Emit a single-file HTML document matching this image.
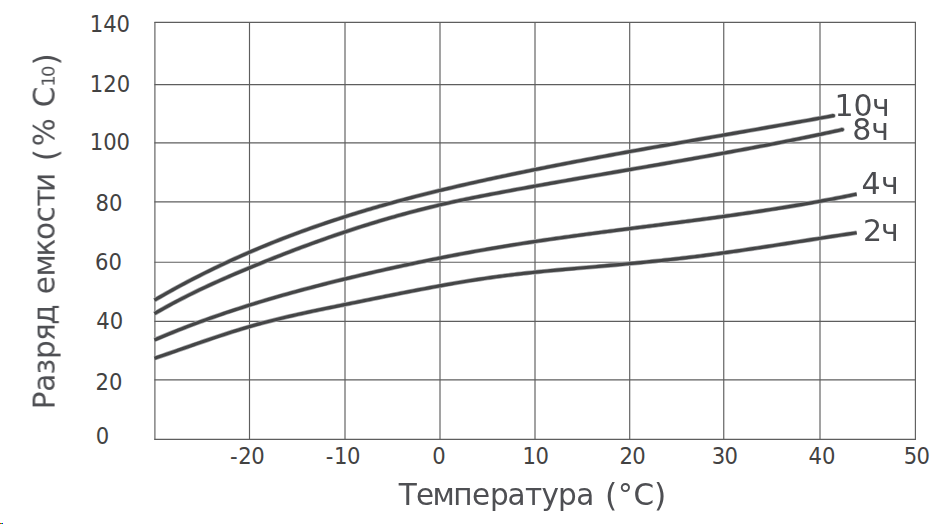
<!DOCTYPE html>
<html><head><meta charset="utf-8"><style>
html,body{margin:0;padding:0;background:#fff;width:942px;height:524px;overflow:hidden}
svg{display:block}
</style></head><body>
<svg width="942" height="524" viewBox="0 0 942 524">
<rect width="942" height="524" fill="#fff"/>
<rect x="0" y="523" width="1" height="1" fill="#f00"/><rect x="1" y="523" width="1" height="1" fill="#0f0"/><rect x="2" y="523" width="1" height="1" fill="#00f"/>
<g stroke="#5e5e5e" stroke-width="1.15" fill="none">
<line x1="154.4" y1="22.4" x2="915.9" y2="22.4"/>
<line x1="154.4" y1="84.55" x2="915.9" y2="84.55"/>
<line x1="154.4" y1="142.8" x2="915.9" y2="142.8"/>
<line x1="154.4" y1="201.8" x2="915.9" y2="201.8"/>
<line x1="154.4" y1="262.2" x2="915.9" y2="262.2"/>
<line x1="154.4" y1="321.4" x2="915.9" y2="321.4"/>
<line x1="154.4" y1="379.85" x2="915.9" y2="379.85"/>
<line x1="154.4" y1="439.4" x2="915.9" y2="439.4"/>
<line x1="154.9" y1="21.9" x2="154.9" y2="439.9"/>
<line x1="249.5" y1="21.9" x2="249.5" y2="439.9"/>
<line x1="345.0" y1="21.9" x2="345.0" y2="439.9"/>
<line x1="440.0" y1="21.9" x2="440.0" y2="439.9"/>
<line x1="535.0" y1="21.9" x2="535.0" y2="439.9"/>
<line x1="629.7" y1="21.9" x2="629.7" y2="439.9"/>
<line x1="723.75" y1="21.9" x2="723.75" y2="439.9"/>
<line x1="820.0" y1="21.9" x2="820.0" y2="439.9"/>
<line x1="915.4" y1="21.9" x2="915.4" y2="439.9"/>
</g>
<g stroke="#a6a7a9" stroke-width="4.6" fill="none" stroke-linejoin="round" stroke-linecap="butt">
<path d="M154.40 300.21 L157.40 298.47 L160.40 296.74 L163.40 295.03 L166.40 293.33 L169.40 291.66 L172.40 289.99 L175.40 288.34 L178.40 286.71 L181.40 285.09 L184.40 283.49 L187.40 281.90 L190.40 280.33 L193.40 278.77 L196.40 277.23 L199.40 275.70 L202.40 274.19 L205.40 272.69 L208.40 271.20 L211.40 269.73 L214.40 268.27 L217.40 266.83 L220.40 265.40 L223.40 263.98 L226.40 262.58 L229.40 261.19 L232.40 259.81 L235.40 258.45 L238.40 257.10 L241.40 255.76 L244.40 254.44 L247.40 253.13 L250.40 251.83 L253.40 250.54 L256.40 249.27 L259.40 248.00 L262.40 246.75 L265.40 245.52 L268.40 244.29 L271.40 243.08 L274.40 241.88 L277.40 240.69 L280.40 239.51 L283.40 238.34 L286.40 237.18 L289.40 236.04 L292.40 234.91 L295.40 233.78 L298.40 232.67 L301.40 231.57 L304.40 230.48 L307.40 229.40 L310.40 228.33 L313.40 227.27 L316.40 226.22 L319.40 225.18 L322.40 224.15 L325.40 223.13 L328.40 222.12 L331.40 221.12 L334.40 220.13 L337.40 219.15 L340.40 218.18 L343.40 217.22 L346.40 216.26 L349.40 215.32 L352.40 214.38 L355.40 213.45 L358.40 212.53 L361.40 211.62 L364.40 210.72 L367.40 209.83 L370.40 208.94 L373.40 208.06 L376.40 207.20 L379.40 206.33 L382.40 205.48 L385.40 204.63 L388.40 203.79 L391.40 202.96 L394.40 202.14 L397.40 201.32 L400.40 200.51 L403.40 199.71 L406.40 198.91 L409.40 198.12 L412.40 197.34 L415.40 196.56 L418.40 195.79 L421.40 195.02 L424.40 194.27 L427.40 193.51 L430.40 192.77 L433.40 192.03 L436.40 191.29 L439.40 190.56 L442.40 189.84 L445.40 189.12 L448.40 188.41 L451.40 187.70 L454.40 187.00 L457.40 186.30 L460.40 185.60 L463.40 184.92 L466.40 184.23 L469.40 183.55 L472.40 182.88 L475.40 182.20 L478.40 181.54 L481.40 180.87 L484.40 180.21 L487.40 179.56 L490.40 178.91 L493.40 178.26 L496.40 177.61 L499.40 176.97 L502.40 176.33 L505.40 175.70 L508.40 175.07 L511.40 174.44 L514.40 173.81 L517.40 173.19 L520.40 172.57 L523.40 171.95 L526.40 171.34 L529.40 170.73 L532.40 170.12 L535.40 169.51 L538.40 168.91 L541.40 168.31 L544.40 167.71 L547.40 167.11 L550.40 166.52 L553.40 165.93 L556.40 165.34 L559.40 164.75 L562.40 164.17 L565.40 163.59 L568.40 163.01 L571.40 162.43 L574.40 161.86 L577.40 161.29 L580.40 160.72 L583.40 160.15 L586.40 159.58 L589.40 159.02 L592.40 158.46 L595.40 157.89 L598.40 157.34 L601.40 156.78 L604.40 156.22 L607.40 155.67 L610.40 155.12 L613.40 154.57 L616.40 154.02 L619.40 153.47 L622.40 152.93 L625.40 152.38 L628.40 151.84 L631.40 151.30 L634.40 150.76 L637.40 150.22 L640.40 149.68 L643.40 149.14 L646.40 148.61 L649.40 148.07 L652.40 147.54 L655.40 147.01 L658.40 146.48 L661.40 145.95 L664.40 145.42 L667.40 144.89 L670.40 144.36 L673.40 143.83 L676.40 143.31 L679.40 142.78 L682.40 142.26 L685.40 141.73 L688.40 141.21 L691.40 140.69 L694.40 140.16 L697.40 139.64 L700.40 139.12 L703.40 138.60 L706.40 138.08 L709.40 137.55 L712.40 137.03 L715.40 136.51 L718.40 135.99 L721.40 135.47 L724.40 134.95 L727.40 134.43 L730.40 133.91 L733.40 133.39 L736.40 132.87 L739.40 132.34 L742.40 131.82 L745.40 131.30 L748.40 130.78 L751.40 130.26 L754.40 129.73 L757.40 129.21 L760.40 128.69 L763.40 128.16 L766.40 127.64 L769.40 127.11 L772.40 126.59 L775.40 126.06 L778.40 125.53 L781.40 125.00 L784.40 124.48 L787.40 123.95 L790.40 123.41 L793.40 122.88 L796.40 122.35 L799.40 121.82 L802.40 121.28 L805.40 120.75 L808.40 120.21 L811.40 119.67 L814.40 119.13 L817.40 118.59 L820.40 118.05 L823.40 117.50 L826.40 116.96 L829.40 116.41 L832.40 115.86 L833.40 115.68"/>
<path d="M154.40 313.71 L157.40 311.96 L160.40 310.24 L163.40 308.54 L166.40 306.87 L169.40 305.23 L172.40 303.60 L175.40 302.00 L178.40 300.42 L181.40 298.86 L184.40 297.33 L187.40 295.81 L190.40 294.31 L193.40 292.83 L196.40 291.37 L199.40 289.92 L202.40 288.50 L205.40 287.08 L208.40 285.69 L211.40 284.31 L214.40 282.94 L217.40 281.59 L220.40 280.25 L223.40 278.92 L226.40 277.61 L229.40 276.31 L232.40 275.01 L235.40 273.73 L238.40 272.46 L241.40 271.19 L244.40 269.94 L247.40 268.69 L250.40 267.44 L253.40 266.21 L256.40 264.98 L259.40 263.76 L262.40 262.54 L265.40 261.33 L268.40 260.13 L271.40 258.93 L274.40 257.75 L277.40 256.56 L280.40 255.39 L283.40 254.22 L286.40 253.06 L289.40 251.91 L292.40 250.76 L295.40 249.62 L298.40 248.49 L301.40 247.37 L304.40 246.25 L307.40 245.14 L310.40 244.04 L313.40 242.95 L316.40 241.87 L319.40 240.79 L322.40 239.72 L325.40 238.66 L328.40 237.61 L331.40 236.57 L334.40 235.53 L337.40 234.50 L340.40 233.48 L343.40 232.47 L346.40 231.47 L349.40 230.48 L352.40 229.50 L355.40 228.52 L358.40 227.56 L361.40 226.60 L364.40 225.65 L367.40 224.71 L370.40 223.78 L373.40 222.86 L376.40 221.95 L379.40 221.05 L382.40 220.15 L385.40 219.27 L388.40 218.40 L391.40 217.53 L394.40 216.67 L397.40 215.83 L400.40 214.99 L403.40 214.16 L406.40 213.35 L409.40 212.54 L412.40 211.74 L415.40 210.95 L418.40 210.17 L421.40 209.41 L424.40 208.65 L427.40 207.90 L430.40 207.16 L433.40 206.43 L436.40 205.71 L439.40 205.00 L442.40 204.31 L445.40 203.62 L448.40 202.94 L451.40 202.27 L454.40 201.62 L457.40 200.97 L460.40 200.33 L463.40 199.70 L466.40 199.08 L469.40 198.46 L472.40 197.86 L475.40 197.26 L478.40 196.66 L481.40 196.08 L484.40 195.49 L487.40 194.91 L490.40 194.34 L493.40 193.77 L496.40 193.20 L499.40 192.64 L502.40 192.08 L505.40 191.52 L508.40 190.96 L511.40 190.41 L514.40 189.85 L517.40 189.30 L520.40 188.75 L523.40 188.21 L526.40 187.66 L529.40 187.12 L532.40 186.58 L535.40 186.04 L538.40 185.50 L541.40 184.96 L544.40 184.42 L547.40 183.89 L550.40 183.36 L553.40 182.83 L556.40 182.30 L559.40 181.77 L562.40 181.24 L565.40 180.71 L568.40 180.19 L571.40 179.66 L574.40 179.14 L577.40 178.62 L580.40 178.09 L583.40 177.57 L586.40 177.05 L589.40 176.53 L592.40 176.01 L595.40 175.50 L598.40 174.98 L601.40 174.46 L604.40 173.94 L607.40 173.43 L610.40 172.91 L613.40 172.39 L616.40 171.88 L619.40 171.36 L622.40 170.85 L625.40 170.33 L628.40 169.82 L631.40 169.30 L634.40 168.78 L637.40 168.27 L640.40 167.75 L643.40 167.23 L646.40 166.72 L649.40 166.20 L652.40 165.68 L655.40 165.16 L658.40 164.65 L661.40 164.13 L664.40 163.61 L667.40 163.09 L670.40 162.56 L673.40 162.04 L676.40 161.52 L679.40 160.99 L682.40 160.47 L685.40 159.94 L688.40 159.42 L691.40 158.89 L694.40 158.36 L697.40 157.83 L700.40 157.29 L703.40 156.76 L706.40 156.23 L709.40 155.69 L712.40 155.15 L715.40 154.61 L718.40 154.07 L721.40 153.53 L724.40 152.98 L727.40 152.44 L730.40 151.89 L733.40 151.34 L736.40 150.79 L739.40 150.23 L742.40 149.68 L745.40 149.12 L748.40 148.56 L751.40 147.99 L754.40 147.43 L757.40 146.86 L760.40 146.29 L763.40 145.72 L766.40 145.15 L769.40 144.57 L772.40 143.99 L775.40 143.41 L778.40 142.82 L781.40 142.23 L784.40 141.64 L787.40 141.05 L790.40 140.45 L793.40 139.85 L796.40 139.25 L799.40 138.64 L802.40 138.04 L805.40 137.42 L808.40 136.81 L811.40 136.19 L814.40 135.57 L817.40 134.94 L820.40 134.31 L823.40 133.68 L826.40 133.04 L829.40 132.41 L832.40 131.76 L835.40 131.12 L838.40 130.46 L841.40 129.81 L842.40 129.59"/>
<path d="M154.40 339.98 L157.40 338.70 L160.40 337.44 L163.40 336.19 L166.40 334.95 L169.40 333.72 L172.40 332.50 L175.40 331.30 L178.40 330.11 L181.40 328.93 L184.40 327.77 L187.40 326.61 L190.40 325.47 L193.40 324.34 L196.40 323.22 L199.40 322.11 L202.40 321.01 L205.40 319.92 L208.40 318.85 L211.40 317.78 L214.40 316.73 L217.40 315.68 L220.40 314.65 L223.40 313.63 L226.40 312.61 L229.40 311.61 L232.40 310.61 L235.40 309.63 L238.40 308.65 L241.40 307.69 L244.40 306.73 L247.40 305.78 L250.40 304.84 L253.40 303.91 L256.40 302.99 L259.40 302.08 L262.40 301.17 L265.40 300.27 L268.40 299.38 L271.40 298.50 L274.40 297.63 L277.40 296.76 L280.40 295.90 L283.40 295.05 L286.40 294.21 L289.40 293.37 L292.40 292.54 L295.40 291.72 L298.40 290.90 L301.40 290.09 L304.40 289.29 L307.40 288.49 L310.40 287.70 L313.40 286.91 L316.40 286.13 L319.40 285.36 L322.40 284.59 L325.40 283.83 L328.40 283.07 L331.40 282.32 L334.40 281.57 L337.40 280.82 L340.40 280.09 L343.40 279.35 L346.40 278.62 L349.40 277.90 L352.40 277.18 L355.40 276.46 L358.40 275.75 L361.40 275.04 L364.40 274.33 L367.40 273.63 L370.40 272.93 L373.40 272.24 L376.40 271.55 L379.40 270.87 L382.40 270.19 L385.40 269.52 L388.40 268.84 L391.40 268.18 L394.40 267.52 L397.40 266.86 L400.40 266.20 L403.40 265.55 L406.40 264.91 L409.40 264.27 L412.40 263.63 L415.40 263.00 L418.40 262.37 L421.40 261.75 L424.40 261.13 L427.40 260.51 L430.40 259.90 L433.40 259.30 L436.40 258.70 L439.40 258.10 L442.40 257.51 L445.40 256.92 L448.40 256.34 L451.40 255.76 L454.40 255.19 L457.40 254.62 L460.40 254.05 L463.40 253.50 L466.40 252.94 L469.40 252.39 L472.40 251.84 L475.40 251.30 L478.40 250.77 L481.40 250.23 L484.40 249.71 L487.40 249.19 L490.40 248.67 L493.40 248.16 L496.40 247.65 L499.40 247.15 L502.40 246.65 L505.40 246.15 L508.40 245.67 L511.40 245.18 L514.40 244.70 L517.40 244.23 L520.40 243.75 L523.40 243.29 L526.40 242.83 L529.40 242.37 L532.40 241.91 L535.40 241.46 L538.40 241.01 L541.40 240.57 L544.40 240.13 L547.40 239.69 L550.40 239.26 L553.40 238.83 L556.40 238.40 L559.40 237.97 L562.40 237.55 L565.40 237.13 L568.40 236.72 L571.40 236.30 L574.40 235.89 L577.40 235.48 L580.40 235.08 L583.40 234.67 L586.40 234.27 L589.40 233.87 L592.40 233.47 L595.40 233.07 L598.40 232.68 L601.40 232.28 L604.40 231.89 L607.40 231.50 L610.40 231.11 L613.40 230.72 L616.40 230.34 L619.40 229.95 L622.40 229.57 L625.40 229.18 L628.40 228.80 L631.40 228.42 L634.40 228.03 L637.40 227.65 L640.40 227.27 L643.40 226.89 L646.40 226.51 L649.40 226.12 L652.40 225.74 L655.40 225.36 L658.40 224.98 L661.40 224.60 L664.40 224.21 L667.40 223.83 L670.40 223.45 L673.40 223.06 L676.40 222.68 L679.40 222.29 L682.40 221.90 L685.40 221.51 L688.40 221.12 L691.40 220.73 L694.40 220.34 L697.40 219.94 L700.40 219.55 L703.40 219.15 L706.40 218.75 L709.40 218.35 L712.40 217.94 L715.40 217.54 L718.40 217.13 L721.40 216.72 L724.40 216.30 L727.40 215.89 L730.40 215.47 L733.40 215.05 L736.40 214.62 L739.40 214.20 L742.40 213.77 L745.40 213.33 L748.40 212.90 L751.40 212.46 L754.40 212.01 L757.40 211.56 L760.40 211.11 L763.40 210.66 L766.40 210.20 L769.40 209.74 L772.40 209.27 L775.40 208.80 L778.40 208.33 L781.40 207.85 L784.40 207.37 L787.40 206.88 L790.40 206.39 L793.40 205.89 L796.40 205.39 L799.40 204.88 L802.40 204.37 L805.40 203.85 L808.40 203.33 L811.40 202.80 L814.40 202.27 L817.40 201.73 L820.40 201.18 L823.40 200.63 L826.40 200.08 L829.40 199.52 L832.40 198.95 L835.40 198.37 L838.40 197.79 L841.40 197.21 L844.40 196.62 L847.40 196.02 L850.40 195.41 L853.40 194.80 L856.40 194.18 L856.70 194.12"/>
<path d="M154.40 358.38 L157.40 357.36 L160.40 356.34 L163.40 355.31 L166.40 354.27 L169.40 353.24 L172.40 352.20 L175.40 351.15 L178.40 350.11 L181.40 349.06 L184.40 348.01 L187.40 346.97 L190.40 345.92 L193.40 344.88 L196.40 343.84 L199.40 342.80 L202.40 341.76 L205.40 340.73 L208.40 339.71 L211.40 338.69 L214.40 337.68 L217.40 336.68 L220.40 335.68 L223.40 334.70 L226.40 333.72 L229.40 332.76 L232.40 331.80 L235.40 330.86 L238.40 329.93 L241.40 329.02 L244.40 328.11 L247.40 327.23 L250.40 326.36 L253.40 325.50 L256.40 324.66 L259.40 323.84 L262.40 323.03 L265.40 322.24 L268.40 321.46 L271.40 320.69 L274.40 319.94 L277.40 319.19 L280.40 318.46 L283.40 317.74 L286.40 317.03 L289.40 316.33 L292.40 315.64 L295.40 314.96 L298.40 314.29 L301.40 313.63 L304.40 312.97 L307.40 312.32 L310.40 311.68 L313.40 311.04 L316.40 310.41 L319.40 309.78 L322.40 309.16 L325.40 308.54 L328.40 307.92 L331.40 307.31 L334.40 306.70 L337.40 306.09 L340.40 305.48 L343.40 304.88 L346.40 304.27 L349.40 303.66 L352.40 303.05 L355.40 302.45 L358.40 301.84 L361.40 301.23 L364.40 300.62 L367.40 300.01 L370.40 299.40 L373.40 298.79 L376.40 298.18 L379.40 297.57 L382.40 296.97 L385.40 296.36 L388.40 295.76 L391.40 295.16 L394.40 294.56 L397.40 293.96 L400.40 293.36 L403.40 292.77 L406.40 292.18 L409.40 291.59 L412.40 291.01 L415.40 290.43 L418.40 289.85 L421.40 289.28 L424.40 288.71 L427.40 288.14 L430.40 287.58 L433.40 287.03 L436.40 286.47 L439.40 285.93 L442.40 285.39 L445.40 284.85 L448.40 284.32 L451.40 283.80 L454.40 283.28 L457.40 282.77 L460.40 282.26 L463.40 281.76 L466.40 281.27 L469.40 280.78 L472.40 280.31 L475.40 279.84 L478.40 279.37 L481.40 278.92 L484.40 278.47 L487.40 278.04 L490.40 277.61 L493.40 277.18 L496.40 276.77 L499.40 276.37 L502.40 275.98 L505.40 275.59 L508.40 275.22 L511.40 274.85 L514.40 274.49 L517.40 274.14 L520.40 273.80 L523.40 273.46 L526.40 273.13 L529.40 272.81 L532.40 272.49 L535.40 272.18 L538.40 271.88 L541.40 271.58 L544.40 271.28 L547.40 270.99 L550.40 270.71 L553.40 270.43 L556.40 270.15 L559.40 269.87 L562.40 269.60 L565.40 269.33 L568.40 269.07 L571.40 268.80 L574.40 268.54 L577.40 268.28 L580.40 268.02 L583.40 267.76 L586.40 267.50 L589.40 267.24 L592.40 266.98 L595.40 266.72 L598.40 266.45 L601.40 266.19 L604.40 265.93 L607.40 265.66 L610.40 265.39 L613.40 265.13 L616.40 264.85 L619.40 264.58 L622.40 264.31 L625.40 264.03 L628.40 263.75 L631.40 263.46 L634.40 263.18 L637.40 262.89 L640.40 262.60 L643.40 262.31 L646.40 262.01 L649.40 261.71 L652.40 261.40 L655.40 261.10 L658.40 260.79 L661.40 260.47 L664.40 260.15 L667.40 259.83 L670.40 259.50 L673.40 259.17 L676.40 258.83 L679.40 258.49 L682.40 258.15 L685.40 257.80 L688.40 257.44 L691.40 257.09 L694.40 256.72 L697.40 256.35 L700.40 255.98 L703.40 255.60 L706.40 255.21 L709.40 254.82 L712.40 254.42 L715.40 254.02 L718.40 253.62 L721.40 253.21 L724.40 252.79 L727.40 252.37 L730.40 251.95 L733.40 251.53 L736.40 251.10 L739.40 250.66 L742.40 250.23 L745.40 249.79 L748.40 249.34 L751.40 248.90 L754.40 248.45 L757.40 248.00 L760.40 247.55 L763.40 247.09 L766.40 246.63 L769.40 246.17 L772.40 245.71 L775.40 245.25 L778.40 244.79 L781.40 244.32 L784.40 243.86 L787.40 243.39 L790.40 242.92 L793.40 242.45 L796.40 241.98 L799.40 241.52 L802.40 241.05 L805.40 240.58 L808.40 240.11 L811.40 239.64 L814.40 239.17 L817.40 238.71 L820.40 238.24 L823.40 237.78 L826.40 237.31 L829.40 236.85 L832.40 236.39 L835.40 235.93 L838.40 235.47 L841.40 235.02 L844.40 234.56 L847.40 234.11 L850.40 233.66 L853.40 233.22 L856.40 232.78 L856.70 232.73"/>
<circle cx="833.40" cy="115.68" r="2.3" fill="#a6a7a9" stroke="none"/>
<circle cx="842.40" cy="129.59" r="2.3" fill="#a6a7a9" stroke="none"/>
</g>
<g stroke="#444546" stroke-width="3.2" fill="none" stroke-linejoin="round" stroke-linecap="butt">
<path d="M154.40 300.21 L157.40 298.47 L160.40 296.74 L163.40 295.03 L166.40 293.33 L169.40 291.66 L172.40 289.99 L175.40 288.34 L178.40 286.71 L181.40 285.09 L184.40 283.49 L187.40 281.90 L190.40 280.33 L193.40 278.77 L196.40 277.23 L199.40 275.70 L202.40 274.19 L205.40 272.69 L208.40 271.20 L211.40 269.73 L214.40 268.27 L217.40 266.83 L220.40 265.40 L223.40 263.98 L226.40 262.58 L229.40 261.19 L232.40 259.81 L235.40 258.45 L238.40 257.10 L241.40 255.76 L244.40 254.44 L247.40 253.13 L250.40 251.83 L253.40 250.54 L256.40 249.27 L259.40 248.00 L262.40 246.75 L265.40 245.52 L268.40 244.29 L271.40 243.08 L274.40 241.88 L277.40 240.69 L280.40 239.51 L283.40 238.34 L286.40 237.18 L289.40 236.04 L292.40 234.91 L295.40 233.78 L298.40 232.67 L301.40 231.57 L304.40 230.48 L307.40 229.40 L310.40 228.33 L313.40 227.27 L316.40 226.22 L319.40 225.18 L322.40 224.15 L325.40 223.13 L328.40 222.12 L331.40 221.12 L334.40 220.13 L337.40 219.15 L340.40 218.18 L343.40 217.22 L346.40 216.26 L349.40 215.32 L352.40 214.38 L355.40 213.45 L358.40 212.53 L361.40 211.62 L364.40 210.72 L367.40 209.83 L370.40 208.94 L373.40 208.06 L376.40 207.20 L379.40 206.33 L382.40 205.48 L385.40 204.63 L388.40 203.79 L391.40 202.96 L394.40 202.14 L397.40 201.32 L400.40 200.51 L403.40 199.71 L406.40 198.91 L409.40 198.12 L412.40 197.34 L415.40 196.56 L418.40 195.79 L421.40 195.02 L424.40 194.27 L427.40 193.51 L430.40 192.77 L433.40 192.03 L436.40 191.29 L439.40 190.56 L442.40 189.84 L445.40 189.12 L448.40 188.41 L451.40 187.70 L454.40 187.00 L457.40 186.30 L460.40 185.60 L463.40 184.92 L466.40 184.23 L469.40 183.55 L472.40 182.88 L475.40 182.20 L478.40 181.54 L481.40 180.87 L484.40 180.21 L487.40 179.56 L490.40 178.91 L493.40 178.26 L496.40 177.61 L499.40 176.97 L502.40 176.33 L505.40 175.70 L508.40 175.07 L511.40 174.44 L514.40 173.81 L517.40 173.19 L520.40 172.57 L523.40 171.95 L526.40 171.34 L529.40 170.73 L532.40 170.12 L535.40 169.51 L538.40 168.91 L541.40 168.31 L544.40 167.71 L547.40 167.11 L550.40 166.52 L553.40 165.93 L556.40 165.34 L559.40 164.75 L562.40 164.17 L565.40 163.59 L568.40 163.01 L571.40 162.43 L574.40 161.86 L577.40 161.29 L580.40 160.72 L583.40 160.15 L586.40 159.58 L589.40 159.02 L592.40 158.46 L595.40 157.89 L598.40 157.34 L601.40 156.78 L604.40 156.22 L607.40 155.67 L610.40 155.12 L613.40 154.57 L616.40 154.02 L619.40 153.47 L622.40 152.93 L625.40 152.38 L628.40 151.84 L631.40 151.30 L634.40 150.76 L637.40 150.22 L640.40 149.68 L643.40 149.14 L646.40 148.61 L649.40 148.07 L652.40 147.54 L655.40 147.01 L658.40 146.48 L661.40 145.95 L664.40 145.42 L667.40 144.89 L670.40 144.36 L673.40 143.83 L676.40 143.31 L679.40 142.78 L682.40 142.26 L685.40 141.73 L688.40 141.21 L691.40 140.69 L694.40 140.16 L697.40 139.64 L700.40 139.12 L703.40 138.60 L706.40 138.08 L709.40 137.55 L712.40 137.03 L715.40 136.51 L718.40 135.99 L721.40 135.47 L724.40 134.95 L727.40 134.43 L730.40 133.91 L733.40 133.39 L736.40 132.87 L739.40 132.34 L742.40 131.82 L745.40 131.30 L748.40 130.78 L751.40 130.26 L754.40 129.73 L757.40 129.21 L760.40 128.69 L763.40 128.16 L766.40 127.64 L769.40 127.11 L772.40 126.59 L775.40 126.06 L778.40 125.53 L781.40 125.00 L784.40 124.48 L787.40 123.95 L790.40 123.41 L793.40 122.88 L796.40 122.35 L799.40 121.82 L802.40 121.28 L805.40 120.75 L808.40 120.21 L811.40 119.67 L814.40 119.13 L817.40 118.59 L820.40 118.05 L823.40 117.50 L826.40 116.96 L829.40 116.41 L832.40 115.86 L833.40 115.68"/>
<path d="M154.40 313.71 L157.40 311.96 L160.40 310.24 L163.40 308.54 L166.40 306.87 L169.40 305.23 L172.40 303.60 L175.40 302.00 L178.40 300.42 L181.40 298.86 L184.40 297.33 L187.40 295.81 L190.40 294.31 L193.40 292.83 L196.40 291.37 L199.40 289.92 L202.40 288.50 L205.40 287.08 L208.40 285.69 L211.40 284.31 L214.40 282.94 L217.40 281.59 L220.40 280.25 L223.40 278.92 L226.40 277.61 L229.40 276.31 L232.40 275.01 L235.40 273.73 L238.40 272.46 L241.40 271.19 L244.40 269.94 L247.40 268.69 L250.40 267.44 L253.40 266.21 L256.40 264.98 L259.40 263.76 L262.40 262.54 L265.40 261.33 L268.40 260.13 L271.40 258.93 L274.40 257.75 L277.40 256.56 L280.40 255.39 L283.40 254.22 L286.40 253.06 L289.40 251.91 L292.40 250.76 L295.40 249.62 L298.40 248.49 L301.40 247.37 L304.40 246.25 L307.40 245.14 L310.40 244.04 L313.40 242.95 L316.40 241.87 L319.40 240.79 L322.40 239.72 L325.40 238.66 L328.40 237.61 L331.40 236.57 L334.40 235.53 L337.40 234.50 L340.40 233.48 L343.40 232.47 L346.40 231.47 L349.40 230.48 L352.40 229.50 L355.40 228.52 L358.40 227.56 L361.40 226.60 L364.40 225.65 L367.40 224.71 L370.40 223.78 L373.40 222.86 L376.40 221.95 L379.40 221.05 L382.40 220.15 L385.40 219.27 L388.40 218.40 L391.40 217.53 L394.40 216.67 L397.40 215.83 L400.40 214.99 L403.40 214.16 L406.40 213.35 L409.40 212.54 L412.40 211.74 L415.40 210.95 L418.40 210.17 L421.40 209.41 L424.40 208.65 L427.40 207.90 L430.40 207.16 L433.40 206.43 L436.40 205.71 L439.40 205.00 L442.40 204.31 L445.40 203.62 L448.40 202.94 L451.40 202.27 L454.40 201.62 L457.40 200.97 L460.40 200.33 L463.40 199.70 L466.40 199.08 L469.40 198.46 L472.40 197.86 L475.40 197.26 L478.40 196.66 L481.40 196.08 L484.40 195.49 L487.40 194.91 L490.40 194.34 L493.40 193.77 L496.40 193.20 L499.40 192.64 L502.40 192.08 L505.40 191.52 L508.40 190.96 L511.40 190.41 L514.40 189.85 L517.40 189.30 L520.40 188.75 L523.40 188.21 L526.40 187.66 L529.40 187.12 L532.40 186.58 L535.40 186.04 L538.40 185.50 L541.40 184.96 L544.40 184.42 L547.40 183.89 L550.40 183.36 L553.40 182.83 L556.40 182.30 L559.40 181.77 L562.40 181.24 L565.40 180.71 L568.40 180.19 L571.40 179.66 L574.40 179.14 L577.40 178.62 L580.40 178.09 L583.40 177.57 L586.40 177.05 L589.40 176.53 L592.40 176.01 L595.40 175.50 L598.40 174.98 L601.40 174.46 L604.40 173.94 L607.40 173.43 L610.40 172.91 L613.40 172.39 L616.40 171.88 L619.40 171.36 L622.40 170.85 L625.40 170.33 L628.40 169.82 L631.40 169.30 L634.40 168.78 L637.40 168.27 L640.40 167.75 L643.40 167.23 L646.40 166.72 L649.40 166.20 L652.40 165.68 L655.40 165.16 L658.40 164.65 L661.40 164.13 L664.40 163.61 L667.40 163.09 L670.40 162.56 L673.40 162.04 L676.40 161.52 L679.40 160.99 L682.40 160.47 L685.40 159.94 L688.40 159.42 L691.40 158.89 L694.40 158.36 L697.40 157.83 L700.40 157.29 L703.40 156.76 L706.40 156.23 L709.40 155.69 L712.40 155.15 L715.40 154.61 L718.40 154.07 L721.40 153.53 L724.40 152.98 L727.40 152.44 L730.40 151.89 L733.40 151.34 L736.40 150.79 L739.40 150.23 L742.40 149.68 L745.40 149.12 L748.40 148.56 L751.40 147.99 L754.40 147.43 L757.40 146.86 L760.40 146.29 L763.40 145.72 L766.40 145.15 L769.40 144.57 L772.40 143.99 L775.40 143.41 L778.40 142.82 L781.40 142.23 L784.40 141.64 L787.40 141.05 L790.40 140.45 L793.40 139.85 L796.40 139.25 L799.40 138.64 L802.40 138.04 L805.40 137.42 L808.40 136.81 L811.40 136.19 L814.40 135.57 L817.40 134.94 L820.40 134.31 L823.40 133.68 L826.40 133.04 L829.40 132.41 L832.40 131.76 L835.40 131.12 L838.40 130.46 L841.40 129.81 L842.40 129.59"/>
<path d="M154.40 339.98 L157.40 338.70 L160.40 337.44 L163.40 336.19 L166.40 334.95 L169.40 333.72 L172.40 332.50 L175.40 331.30 L178.40 330.11 L181.40 328.93 L184.40 327.77 L187.40 326.61 L190.40 325.47 L193.40 324.34 L196.40 323.22 L199.40 322.11 L202.40 321.01 L205.40 319.92 L208.40 318.85 L211.40 317.78 L214.40 316.73 L217.40 315.68 L220.40 314.65 L223.40 313.63 L226.40 312.61 L229.40 311.61 L232.40 310.61 L235.40 309.63 L238.40 308.65 L241.40 307.69 L244.40 306.73 L247.40 305.78 L250.40 304.84 L253.40 303.91 L256.40 302.99 L259.40 302.08 L262.40 301.17 L265.40 300.27 L268.40 299.38 L271.40 298.50 L274.40 297.63 L277.40 296.76 L280.40 295.90 L283.40 295.05 L286.40 294.21 L289.40 293.37 L292.40 292.54 L295.40 291.72 L298.40 290.90 L301.40 290.09 L304.40 289.29 L307.40 288.49 L310.40 287.70 L313.40 286.91 L316.40 286.13 L319.40 285.36 L322.40 284.59 L325.40 283.83 L328.40 283.07 L331.40 282.32 L334.40 281.57 L337.40 280.82 L340.40 280.09 L343.40 279.35 L346.40 278.62 L349.40 277.90 L352.40 277.18 L355.40 276.46 L358.40 275.75 L361.40 275.04 L364.40 274.33 L367.40 273.63 L370.40 272.93 L373.40 272.24 L376.40 271.55 L379.40 270.87 L382.40 270.19 L385.40 269.52 L388.40 268.84 L391.40 268.18 L394.40 267.52 L397.40 266.86 L400.40 266.20 L403.40 265.55 L406.40 264.91 L409.40 264.27 L412.40 263.63 L415.40 263.00 L418.40 262.37 L421.40 261.75 L424.40 261.13 L427.40 260.51 L430.40 259.90 L433.40 259.30 L436.40 258.70 L439.40 258.10 L442.40 257.51 L445.40 256.92 L448.40 256.34 L451.40 255.76 L454.40 255.19 L457.40 254.62 L460.40 254.05 L463.40 253.50 L466.40 252.94 L469.40 252.39 L472.40 251.84 L475.40 251.30 L478.40 250.77 L481.40 250.23 L484.40 249.71 L487.40 249.19 L490.40 248.67 L493.40 248.16 L496.40 247.65 L499.40 247.15 L502.40 246.65 L505.40 246.15 L508.40 245.67 L511.40 245.18 L514.40 244.70 L517.40 244.23 L520.40 243.75 L523.40 243.29 L526.40 242.83 L529.40 242.37 L532.40 241.91 L535.40 241.46 L538.40 241.01 L541.40 240.57 L544.40 240.13 L547.40 239.69 L550.40 239.26 L553.40 238.83 L556.40 238.40 L559.40 237.97 L562.40 237.55 L565.40 237.13 L568.40 236.72 L571.40 236.30 L574.40 235.89 L577.40 235.48 L580.40 235.08 L583.40 234.67 L586.40 234.27 L589.40 233.87 L592.40 233.47 L595.40 233.07 L598.40 232.68 L601.40 232.28 L604.40 231.89 L607.40 231.50 L610.40 231.11 L613.40 230.72 L616.40 230.34 L619.40 229.95 L622.40 229.57 L625.40 229.18 L628.40 228.80 L631.40 228.42 L634.40 228.03 L637.40 227.65 L640.40 227.27 L643.40 226.89 L646.40 226.51 L649.40 226.12 L652.40 225.74 L655.40 225.36 L658.40 224.98 L661.40 224.60 L664.40 224.21 L667.40 223.83 L670.40 223.45 L673.40 223.06 L676.40 222.68 L679.40 222.29 L682.40 221.90 L685.40 221.51 L688.40 221.12 L691.40 220.73 L694.40 220.34 L697.40 219.94 L700.40 219.55 L703.40 219.15 L706.40 218.75 L709.40 218.35 L712.40 217.94 L715.40 217.54 L718.40 217.13 L721.40 216.72 L724.40 216.30 L727.40 215.89 L730.40 215.47 L733.40 215.05 L736.40 214.62 L739.40 214.20 L742.40 213.77 L745.40 213.33 L748.40 212.90 L751.40 212.46 L754.40 212.01 L757.40 211.56 L760.40 211.11 L763.40 210.66 L766.40 210.20 L769.40 209.74 L772.40 209.27 L775.40 208.80 L778.40 208.33 L781.40 207.85 L784.40 207.37 L787.40 206.88 L790.40 206.39 L793.40 205.89 L796.40 205.39 L799.40 204.88 L802.40 204.37 L805.40 203.85 L808.40 203.33 L811.40 202.80 L814.40 202.27 L817.40 201.73 L820.40 201.18 L823.40 200.63 L826.40 200.08 L829.40 199.52 L832.40 198.95 L835.40 198.37 L838.40 197.79 L841.40 197.21 L844.40 196.62 L847.40 196.02 L850.40 195.41 L853.40 194.80 L856.40 194.18 L856.70 194.12"/>
<path d="M154.40 358.38 L157.40 357.36 L160.40 356.34 L163.40 355.31 L166.40 354.27 L169.40 353.24 L172.40 352.20 L175.40 351.15 L178.40 350.11 L181.40 349.06 L184.40 348.01 L187.40 346.97 L190.40 345.92 L193.40 344.88 L196.40 343.84 L199.40 342.80 L202.40 341.76 L205.40 340.73 L208.40 339.71 L211.40 338.69 L214.40 337.68 L217.40 336.68 L220.40 335.68 L223.40 334.70 L226.40 333.72 L229.40 332.76 L232.40 331.80 L235.40 330.86 L238.40 329.93 L241.40 329.02 L244.40 328.11 L247.40 327.23 L250.40 326.36 L253.40 325.50 L256.40 324.66 L259.40 323.84 L262.40 323.03 L265.40 322.24 L268.40 321.46 L271.40 320.69 L274.40 319.94 L277.40 319.19 L280.40 318.46 L283.40 317.74 L286.40 317.03 L289.40 316.33 L292.40 315.64 L295.40 314.96 L298.40 314.29 L301.40 313.63 L304.40 312.97 L307.40 312.32 L310.40 311.68 L313.40 311.04 L316.40 310.41 L319.40 309.78 L322.40 309.16 L325.40 308.54 L328.40 307.92 L331.40 307.31 L334.40 306.70 L337.40 306.09 L340.40 305.48 L343.40 304.88 L346.40 304.27 L349.40 303.66 L352.40 303.05 L355.40 302.45 L358.40 301.84 L361.40 301.23 L364.40 300.62 L367.40 300.01 L370.40 299.40 L373.40 298.79 L376.40 298.18 L379.40 297.57 L382.40 296.97 L385.40 296.36 L388.40 295.76 L391.40 295.16 L394.40 294.56 L397.40 293.96 L400.40 293.36 L403.40 292.77 L406.40 292.18 L409.40 291.59 L412.40 291.01 L415.40 290.43 L418.40 289.85 L421.40 289.28 L424.40 288.71 L427.40 288.14 L430.40 287.58 L433.40 287.03 L436.40 286.47 L439.40 285.93 L442.40 285.39 L445.40 284.85 L448.40 284.32 L451.40 283.80 L454.40 283.28 L457.40 282.77 L460.40 282.26 L463.40 281.76 L466.40 281.27 L469.40 280.78 L472.40 280.31 L475.40 279.84 L478.40 279.37 L481.40 278.92 L484.40 278.47 L487.40 278.04 L490.40 277.61 L493.40 277.18 L496.40 276.77 L499.40 276.37 L502.40 275.98 L505.40 275.59 L508.40 275.22 L511.40 274.85 L514.40 274.49 L517.40 274.14 L520.40 273.80 L523.40 273.46 L526.40 273.13 L529.40 272.81 L532.40 272.49 L535.40 272.18 L538.40 271.88 L541.40 271.58 L544.40 271.28 L547.40 270.99 L550.40 270.71 L553.40 270.43 L556.40 270.15 L559.40 269.87 L562.40 269.60 L565.40 269.33 L568.40 269.07 L571.40 268.80 L574.40 268.54 L577.40 268.28 L580.40 268.02 L583.40 267.76 L586.40 267.50 L589.40 267.24 L592.40 266.98 L595.40 266.72 L598.40 266.45 L601.40 266.19 L604.40 265.93 L607.40 265.66 L610.40 265.39 L613.40 265.13 L616.40 264.85 L619.40 264.58 L622.40 264.31 L625.40 264.03 L628.40 263.75 L631.40 263.46 L634.40 263.18 L637.40 262.89 L640.40 262.60 L643.40 262.31 L646.40 262.01 L649.40 261.71 L652.40 261.40 L655.40 261.10 L658.40 260.79 L661.40 260.47 L664.40 260.15 L667.40 259.83 L670.40 259.50 L673.40 259.17 L676.40 258.83 L679.40 258.49 L682.40 258.15 L685.40 257.80 L688.40 257.44 L691.40 257.09 L694.40 256.72 L697.40 256.35 L700.40 255.98 L703.40 255.60 L706.40 255.21 L709.40 254.82 L712.40 254.42 L715.40 254.02 L718.40 253.62 L721.40 253.21 L724.40 252.79 L727.40 252.37 L730.40 251.95 L733.40 251.53 L736.40 251.10 L739.40 250.66 L742.40 250.23 L745.40 249.79 L748.40 249.34 L751.40 248.90 L754.40 248.45 L757.40 248.00 L760.40 247.55 L763.40 247.09 L766.40 246.63 L769.40 246.17 L772.40 245.71 L775.40 245.25 L778.40 244.79 L781.40 244.32 L784.40 243.86 L787.40 243.39 L790.40 242.92 L793.40 242.45 L796.40 241.98 L799.40 241.52 L802.40 241.05 L805.40 240.58 L808.40 240.11 L811.40 239.64 L814.40 239.17 L817.40 238.71 L820.40 238.24 L823.40 237.78 L826.40 237.31 L829.40 236.85 L832.40 236.39 L835.40 235.93 L838.40 235.47 L841.40 235.02 L844.40 234.56 L847.40 234.11 L850.40 233.66 L853.40 233.22 L856.40 232.78 L856.70 232.73"/>
<circle cx="833.40" cy="115.68" r="1.6" fill="#444546" stroke="none"/>
<circle cx="842.40" cy="129.59" r="1.6" fill="#444546" stroke="none"/>
</g>
<g fill="#424242" style="font-family:'DejaVu Sans Condensed','DejaVu Sans',sans-serif;font-size:23.5px">
<text x="89.7" y="32.0">140</text>
<text x="89.8" y="92.0">120</text>
<text x="89.7" y="150.3">100</text>
<text x="95.5" y="210.8">80</text>
<text x="95.0" y="269.8">60</text>
<text x="96.3" y="329.1">40</text>
<text x="95.5" y="389.7">20</text>
<text x="95.7" y="443.6">0</text>
<text x="230.10 238.22 251.30" y="464.2">-20</text>
<text x="325.70 333.93 347.05" y="464.2">-10</text>
<text x="432.15" y="464.2">0</text>
<text x="522.62 535.60" y="464.2">10</text>
<text x="619.48 632.20" y="464.2">20</text>
<text x="711.83 724.60" y="464.2">30</text>
<text x="808.58 821.90" y="464.2">40</text>
<text x="903.73 916.45" y="464.2">50</text>
</g>
<g fill="#4b4c50" style="font-family:'DejaVu Sans',sans-serif;font-size:30px;filter:blur(0px)">
<text x="834.60 853.50 872.02" y="115.8">10ч</text>
<text x="852.25 871.27" y="140.4">8ч</text>
<text x="861.45 880.92" y="193.6">4ч</text>
<text x="862.92 881.12" y="241.0">2ч</text>
</g>
<g fill="#4e4f53" style="font-family:'DejaVu Sans',sans-serif;font-size:29.5px;filter:blur(0px)">
<text x="398.80 415.88 432.62 453.27 471.93 489.93 507.58 525.10 541.40 558.12 576.23 588.23" y="504.6">Температура <tspan x="605.00" y="505.9" style="font-size:31.5px">(</tspan><tspan x="617.88 633.38" y="504.6">°C</tspan><tspan x="654.10" y="505.9" style="font-size:31.5px">)</tspan></text>
<text transform="translate(54.6,0) rotate(-90)" x="-409.23 -391.80 -374.48 -358.90 -340.93 -324.80 -312.80 -294.32 -276.60 -256.62 -239.93 -222.53 -206.62 -192.05 -180.05" y="0">Разряд емкости <tspan x="-161.15" y="2" style="font-size:31.5px">(</tspan><tspan x="-146.35 -134.35 -107.30" y="0">% C</tspan><tspan x="-86.67 -77.00" y="0.4" style="font-size:18px">10</tspan><tspan x="-65.45" y="2" style="font-size:31.5px">)</tspan></text>

</g>
</svg>
</body></html>
